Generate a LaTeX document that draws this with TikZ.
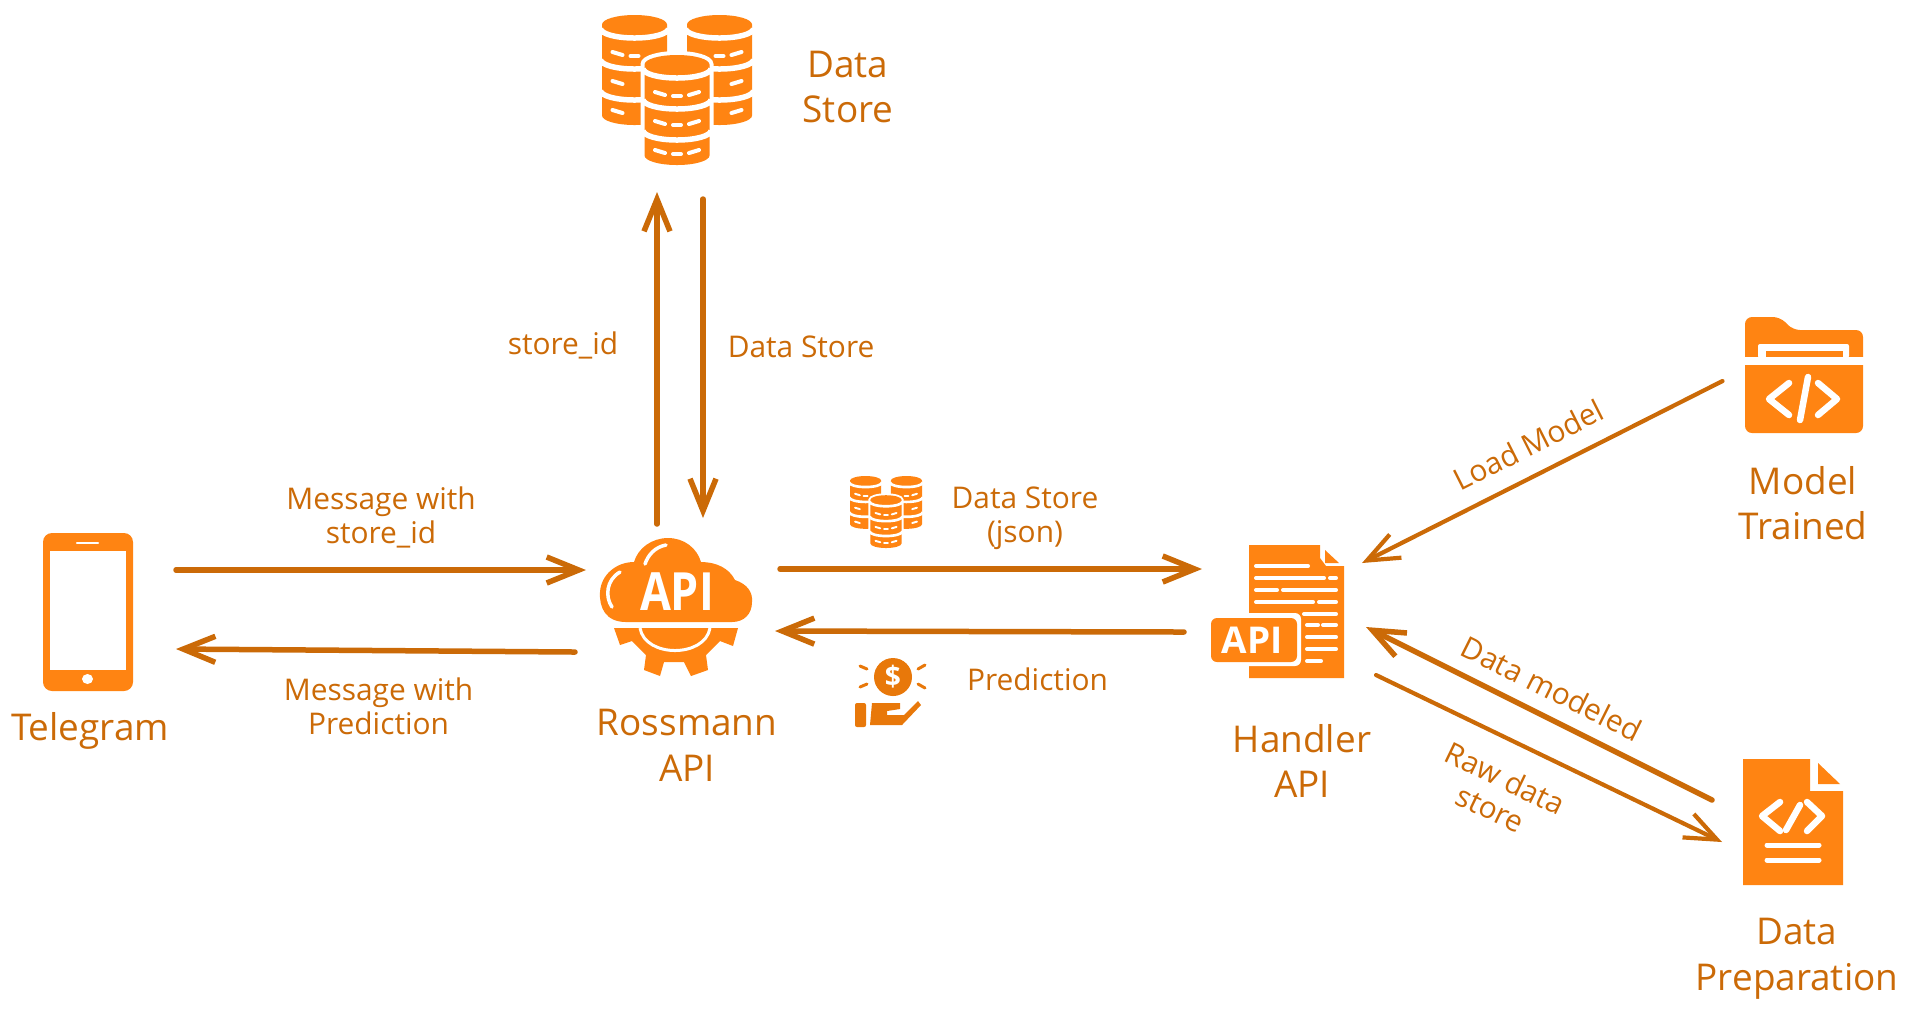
\documentclass[tikz,border=0pt]{standalone}
\usepackage{fontspec}
\setmainfont{Open Sans}
\usetikzlibrary{arrows.meta}

\definecolor{inkbrown}{HTML}{CB6A07}
\definecolor{iconorange}{HTML}{FF8412}
\definecolor{handorange}{HTML}{E8780A}

\tikzset{
  iconbox/.style={inner sep=0pt, outer sep=0pt},
  smalltext/.style={text=inkbrown, inner sep=0pt, align=center, font=\fontsize{8.5}{9.6}\selectfont},
  bigtext/.style={text=inkbrown, inner sep=0pt, align=center, font=\fontsize{10.5}{13}\selectfont},
  flow/.style={draw=inkbrown, line width=0.55mm, line cap=round, -{Straight Barb[length=3.2mm,width=2.6mm]}},
  thinflow/.style={flow, line width=0.42mm},
  iconline/.style={draw=white, line width=0.45mm, line cap=round, line join=round},
}

\newcommand{\dbcyl}[2]{
  \fill[iconorange] ({#1-32.5},{#2+9.5}) arc[start angle=180,end angle=360,x radius=32.5,y radius=9.5]
    -- ({#1+32.5},{#2+100.5}) arc[start angle=0,end angle=180,x radius=32.5,y radius=9.5] -- cycle;
  \foreach \sep in {13.5,44.5,75.5}
    \draw[white, line width=\dbs*0.55mm] ({#1-34},{#2+\sep}) arc[start angle=180,end angle=0,x radius=34,y radius=9.5];
}
\newcommand{\dbleft}[2]{\draw[white, line width=\dbs*0.4mm, line cap=round] ({#1-22},{#2+37}) -- ({#1-12},{#2+40});}
\newcommand{\dbmid}[2]{\draw[white, line width=\dbs*0.4mm, line cap=round] ({#1-4},{#2+41}) -- ({#1+4},{#2+41});}
\newcommand{\dbright}[2]{\draw[white, line width=\dbs*0.4mm, line cap=round] ({#1+12},{#2+40}) -- ({#1+22},{#2+37});}
\newcommand{\dbstack}[3]{
  \begin{scope}[shift={(#1,#2)}, scale=#3]
    \def\dbs{#3}
    \dbcyl{-42.5}{-75}
    \dbleft{-42.5}{-75} \dbmid{-42.5}{-75} \dbleft{-42.5}{-46} \dbleft{-42.5}{-17}
    \dbcyl{42.5}{-75}
    \dbmid{42.5}{-75} \dbright{42.5}{-75} \dbright{42.5}{-46} \dbright{42.5}{-17}
    \filldraw[white, line width=\dbs*0.8mm] (-32.5,-25.5) arc[start angle=180,end angle=360,x radius=32.5,y radius=9.5]
      -- (32.5,65.5) arc[start angle=0,end angle=180,x radius=32.5,y radius=9.5] -- cycle;
    \dbcyl{0}{-35}
    \foreach \band in {-35,-6,23} {
      \dbleft{0}{\band} \dbmid{0}{\band} \dbright{0}{\band}
    }
  \end{scope}
}

\begin{document}
\begin{tikzpicture}[x=0.1mm, y=-0.1mm]

\useasboundingbox (0,0) rectangle (1910,1011);

\node[iconbox, minimum width=9mm, minimum height=15.8mm] (phone) at (88,612) {};
\node[iconbox, minimum width=15mm, minimum height=15mm] (dbtop) at (677,90) {};
\node[iconbox, minimum width=15.4mm, minimum height=13.8mm] (rossmann) at (676,607) {};
\node[iconbox, minimum width=13.4mm, minimum height=13.4mm] (handler) at (1278,611) {};
\node[iconbox, minimum width=11.9mm, minimum height=11.8mm] (folder) at (1804,376) {};
\node[iconbox, minimum width=10mm, minimum height=12.6mm] (prep) at (1793,822) {};

\fill[iconorange, rounded corners=0.9mm] (43,533) rectangle (133,691);
\fill[white] (49.5,551) rectangle (125.5,670);
\draw[white, line width=0.25mm, line cap=round] (77,543) -- (98,543);
\fill[white] (87.5,679) ellipse [x radius=5.5, y radius=5];

\dbstack{677}{90}{1}
\dbstack{886}{512}{0.48}

\fill[iconorange] (626,622) .. controls (606,622) and (599,608) .. (600,592)
  .. controls (601,575) and (616,562) .. (634,562)
  .. controls (638,548) and (652,538) .. (668,538)
  .. controls (684,538) and (697,548) .. (701,562)
  .. controls (716,562) and (729,568) .. (735,580)
  .. controls (747,584) and (753,592) .. (752,602)
  .. controls (752,614) and (744,622) .. (732,622) -- cycle;
\draw[iconline, line width=0.35mm] (666,545) .. controls (655,547) and (648,555) .. (645,564);
\draw[iconline, line width=0.35mm] (620,572) .. controls (606,580) and (605,597) .. (612,607);
\fill[iconorange] (614,628) -- (620,645) -- (632,641) -- (646,655) -- (644,670) -- (660,676)
  -- (664,662) -- (684,662) -- (691,676) -- (708,670) -- (706,655) -- (720,641) -- (733,646) -- (738,628) -- cycle;
\draw[white, line width=0.3mm] (640,628) .. controls (645,658) and (705,658) .. (710,628);
\node[text=white, inner sep=0pt, font=\fontsize{15}{15}\bfseries\selectfont\addfontfeature{FakeStretch=0.85}] (rossmannapi) at (677,592) {API};

\fill[iconorange] (1249,545) -- (1320,545) -- (1320,558) -- (1326,566) -- (1344,566) -- (1344,678) -- (1249,678) -- cycle;
\fill[iconorange] (1325,550) -- (1339,563) -- (1325,563) -- cycle;
\foreach \ya/\xa/\xb in {566/1256/1308, 578/1256/1324, 578/1330/1336, 590/1256/1277, 590/1283/1336,
  602/1256/1313, 602/1319/1336, 614/1304/1336, 625/1307/1318, 625/1323/1336, 637/1307/1336, 649/1307/1336, 661/1307/1321}
  \draw[iconline, line width=0.4mm] (\xa,\ya) -- (\xb,\ya);
\fill[white, rounded corners=0.6mm] (1205,613) rectangle (1301,666);
\fill[iconorange, rounded corners=0.6mm] (1211,618) rectangle (1297,662);
\node[text=white, inner sep=0pt, font=\fontsize{10.5}{10.5}\bfseries\selectfont] (handlerapi) at (1252,640) {API};

\fill[iconorange, rounded corners=0.7mm] (1745,357) -- (1745,317) -- (1780,317) -- (1793,330) -- (1863,330) -- (1863,370) -- (1800,370) -- (1745,370) -- cycle;
\fill[iconorange, rounded corners=0.7mm] (1745,350) -- (1745,433) -- (1863,433) -- (1863,350) -- cycle;
\fill[white] (1740,357) rectangle (1868,365);
\fill[white, rounded corners=0.2mm] (1758,344) -- (1849,344) -- (1849,358) -- (1758,358) -- cycle;
\fill[iconorange] (1766,351) rectangle (1843,357);
\draw[iconline, line width=0.65mm] (1789,383) -- (1769,399) -- (1789,415);
\draw[iconline, line width=0.65mm] (1808,377) -- (1800,420);
\draw[iconline, line width=0.65mm] (1818,383) -- (1837,399) -- (1818,415);

\fill[iconorange] (1743,759) -- (1810,759) -- (1810,791) -- (1843,791) -- (1843,885) -- (1743,885) -- cycle;
\fill[iconorange] (1818,763) -- (1840,784) -- (1818,784) -- cycle;
\draw[iconline, line width=0.65mm] (1780,802) -- (1762,816) -- (1780,831);
\draw[iconline, line width=0.65mm] (1800,805) -- (1786,830);
\draw[iconline, line width=0.65mm] (1807,802) -- (1822,816) -- (1807,831);
\draw[iconline, line width=0.5mm] (1767,845) -- (1819,845);
\draw[iconline, line width=0.5mm] (1767,860) -- (1819,860);

\fill[handorange] (893,677) circle [radius=19];
\node[text=white, inner sep=0pt, font=\fontsize{8}{8}\bfseries\selectfont] (dollar) at (893,677) {\$};
\draw[handorange, line width=0.3mm, line cap=round] (860,666) -- (867,669);
\draw[handorange, line width=0.3mm, line cap=round] (860,687) -- (867,684);
\draw[handorange, line width=0.3mm, line cap=round] (918,669) -- (925,665);
\draw[handorange, line width=0.3mm, line cap=round] (918,684) -- (925,688);
\fill[handorange, rounded corners=0.2mm] (855,703) rectangle (866,727);
\fill[handorange] (872,703) -- (900,703) -- (900,709) -- (887,711) -- (887,715) -- (904,715) -- (918,701) -- (921,705) -- (902,725) -- (870,725) -- cycle;

\draw[flow] ([shift={(43,-42)}]phone.east) -- node[midway, above=0.19cm, smalltext] (msgin) {Message with\\store\_id} ([shift={(-13,-37)}]rossmann.west);
\draw[flow] ([shift={(-24,45)}]rossmann.west) -- node[midway, below=0.25cm, xshift=0.03cm, smalltext] (msgout) {Message with\\Prediction} ([shift={(43,37)}]phone.east);
\draw[flow] ([shift={(-19,-14)}]rossmann.north) -- node[midway, left=0.36cm, yshift=0.13cm, smalltext] (storeid) {store\_id} ([shift={(-20,27)}]dbtop.south);
\draw[flow] ([shift={(26,34)}]dbtop.south) -- node[midway, right=0.22cm, yshift=0.12cm, smalltext] (dbanswer) {Data Store} ([shift={(27,-20)}]rossmann.north);
\draw[flow] ([shift={(27,-38)}]rossmann.east) -- node[midway, above=0.17cm, xshift=0.34cm, smalltext] (dbjson) {Data Store\\(json)} ([shift={(-9,-42)}]handler.west);
\draw[flow] ([shift={(-27,21)}]handler.west) -- node[midway, below=0.34cm, xshift=0.58cm, smalltext] (predict) {Prediction} ([shift={(22,24)}]rossmann.east);
\draw[thinflow] ([shift={(-22,5)}]folder.west) -- node[midway, sloped, above=0.17cm, smalltext] (loadmodel) {Load Model} ([shift={(17,-48)}]handler.east);
\draw[flow] ([shift={(-31,-22)}]prep.west) -- node[midway, sloped, above=0.14cm, smalltext] (modeled) {Data modeled} ([shift={(21,16)}]handler.east);
\draw[thinflow] ([shift={(31,64)}]handler.east) -- node[pos=0.42, sloped, below=0.23cm, smalltext] (rawdata) {Raw data\\store} ([shift={(-21,20)}]prep.west);

\node[bigtext] (dbtoplabel) at (848,87) {Data\\Store};
\node[bigtext] (phonelabel) at (90,731) {Telegram};
\node[bigtext] (rossmannlabel) at (687,745) {Rossmann\\API};
\node[bigtext] (handlerlabel) at (1302,761) {Handler\\API};
\node[bigtext] (folderlabel) at (1803,503) {Model\\Trained};
\node[bigtext] (preplabel) at (1797,959) {Data\\Preparation};

\end{tikzpicture}
\end{document}
